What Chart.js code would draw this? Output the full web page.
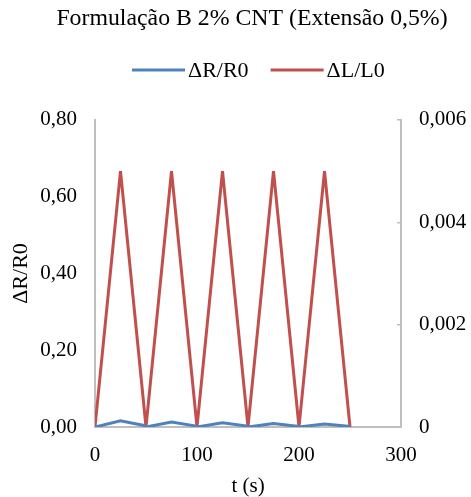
<!DOCTYPE html>
<html><head><meta charset="utf-8">
<script src="https://cdn.jsdelivr.net/npm/chart.js@4"></script>
<style>html,body{margin:0;padding:0;background:#fff}</style>
</head><body>
<canvas id="c" width="471" height="497"></canvas>
<script>
const chartTitle = 'Formulação B 2% CNT (Extensão 0,5%)';
const seriesNames = ['ΔR/R0', 'ΔL/L0'];
const timeR = [0, 25, 48, 50, 75, 98, 100, 125, 148, 150, 175, 198, 200, 225, 248, 250];
const valuesR = [0, 0.016, 0.004, 0, 0.013, 0.003, 0, 0.011, 0.003, 0, 0.009, 0.002, 0, 0.008, 0.002, 0];
const timeL = [0, 25, 50, 75, 100, 125, 150, 175, 200, 225, 250];
const valuesL = [0, 0.005, 0, 0.005, 0, 0.005, 0, 0.005, 0, 0.005, 0];
const xTicks = [0, 100, 200, 300];
const yLeftTicks = [0, 0.2, 0.4, 0.6, 0.8];
const yRightTicks = [0, 0.002, 0.004, 0.006];

const FONT = '"Liberation Serif", "Times New Roman", serif';
const gray = '#BFBFBF';
const toPts = (xs, ys) => xs.map((x, i) => ({x, y: ys[i]}));

// Custom legend (real canvas text), Excel-like: long line swatch, tight gap
const legendPlugin = {
  id: 'xlLegend',
  afterLayout(chart) {
    // Excel centres the title slightly right of the canvas centre
    if (chart.titleBlock) { chart.titleBlock.left = 33; }
  },
  afterDraw(chart) {
    const ctx = chart.ctx;
    ctx.save();
    ctx.font = '22px ' + FONT;
    ctx.textBaseline = 'middle';
    ctx.textAlign = 'left';
    const y = 70, lineLen = 53, gapText = 3, gapItem = 22;
    let x = 132;
    chart.data.datasets.forEach(ds => {
      ctx.strokeStyle = ds.borderColor;
      ctx.lineWidth = 3;
      ctx.lineCap = 'butt';
      ctx.beginPath();
      ctx.moveTo(x, y);
      ctx.lineTo(x + lineLen, y);
      ctx.stroke();
      ctx.fillStyle = '#000';
      ctx.fillText(ds.label, x + lineLen + gapText, y + 1);
      x += lineLen + gapText + ctx.measureText(ds.label).width + gapItem;
    });
    ctx.restore();
  }
};

new Chart(document.getElementById('c'), {
  type: 'line',
  data: {
    datasets: [
      {label: seriesNames[0], data: toPts(timeR, valuesR), yAxisID: 'y', borderColor: '#4F81BD', backgroundColor: '#4F81BD', borderWidth: 3, pointRadius: 0, tension: 0},
      {label: seriesNames[1], data: toPts(timeL, valuesL), yAxisID: 'y1', borderColor: '#C0504D', backgroundColor: '#C0504D', borderWidth: 3, pointRadius: 0, tension: 0}
    ]
  },
  plugins: [legendPlugin],
  options: {
    responsive: false,
    animation: false,
    layout: {padding: {left: 0, right: 0, top: 4, bottom: 0}},
    plugins: {
      title: {display: true, text: chartTitle, color: '#000', font: {family: FONT, size: 23.8, weight: 'normal'}, padding: {top: 0, bottom: 87.4}},
      legend: {display: false},
      tooltip: {enabled: false}
    },
    scales: {
      x: {
        type: 'linear', min: 0, max: 300,
        afterBuildTicks: s => { s.ticks = xTicks.map(v => ({value: v})); },
        ticks: {color: '#000', font: {family: FONT, size: 21}, padding: 16, maxRotation: 0},
        grid: {display: false, drawTicks: false},
        border: {display: true, color: gray, width: 2},
        title: {display: true, text: 't (s)', color: '#000', font: {family: FONT, size: 21}, padding: {top: 0, bottom: -2}},
        afterFit: s => { s.height = 70; }
      },
      y: {
        position: 'left', min: 0, max: 0.8,
        afterBuildTicks: s => { s.ticks = yLeftTicks.map(v => ({value: v})); },
        ticks: {color: '#000', font: {family: FONT, size: 21}, padding: 18, callback: v => v.toFixed(2).replace('.', ',')},
        grid: {display: false, drawTicks: false},
        border: {display: true, color: gray, width: 2},
        title: {display: true, text: 'ΔR/R0', color: '#000', font: {family: FONT, size: 22}, padding: {top: 8, bottom: 0}},
        afterFit: s => { s.width = 95; }
      },
      y1: {
        position: 'right', min: 0, max: 0.006,
        afterBuildTicks: s => { s.ticks = yRightTicks.map(v => ({value: v})); },
        ticks: {color: '#000', font: {family: FONT, size: 21}, padding: 22, callback: v => v === 0 ? '0' : v.toFixed(3).replace('.', ',')},
        grid: {display: true, drawOnChartArea: false, drawTicks: true, tickLength: -4, color: gray, lineWidth: 1.5},
        border: {display: true, color: gray, width: 2},
        afterFit: s => { s.width = 70; }
      }
    }
  }
});
</script>
</body></html>
